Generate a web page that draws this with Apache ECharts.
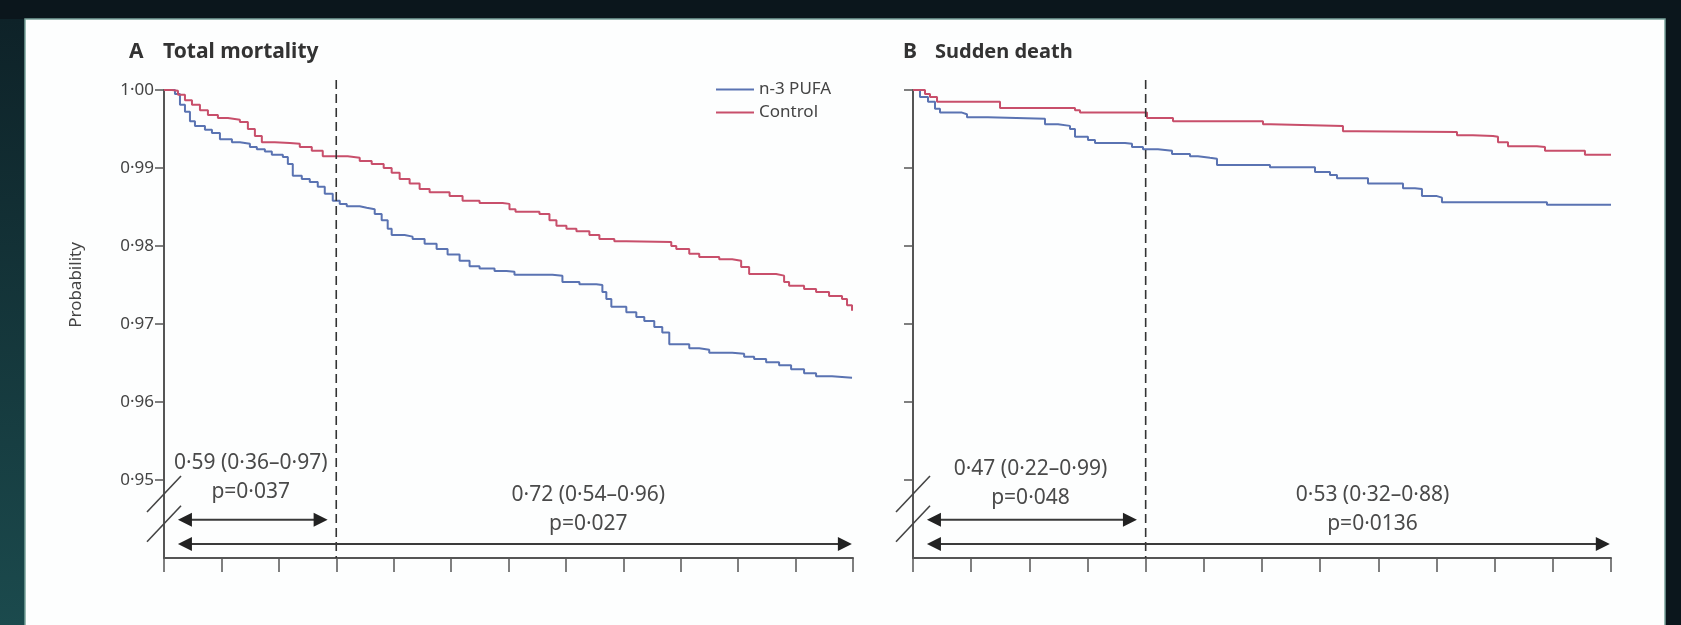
<!DOCTYPE html>
<html><head><meta charset="utf-8">
<script src="https://cdn.jsdelivr.net/npm/echarts@6/dist/echarts.min.js"></script>
<style>html,body{margin:0;padding:0;background:#0b161c;}#c{width:1681px;height:625px;}</style>
</head><body><div id="c"></div>
<script>
// ---------- data ----------
const seriesNames = ['n-3 PUFA', 'Control'];
const panelLetters = ['A', 'B'];
const panelTitles = ['Total mortality', 'Sudden death'];
const yTicks = [0.95, 0.96, 0.97, 0.98, 0.99, 1.00];
const yMin = 0.94, yMax = 1.00, yStep = 0.01;
const xMin = 0, xMax = 12, xStep = 1;
const splitTimes = [3, 4];            // dashed line position, panel A / B
const breakMarks = [0.9482, 0.9444];  // axis-break slashes (y values at the axis)

// Panel A – total mortality  [time, probability]
const totalPufa = [[0,1],[0.104,1],[0.191,0.9995],[0.278,0.9981],[0.365,0.9972],[0.452,0.996],[0.539,0.9954],[0.713,0.9949],[0.835,0.9945],[0.974,0.9937],[1.183,0.9933],[1.322,0.9931],[1.496,0.9927],[1.617,0.9924],[1.757,0.9921],[1.878,0.9917],[2.07,0.9914],[2.157,0.9905],[2.243,0.989],[2.4,0.9886],[2.539,0.9882],[2.678,0.9876],[2.8,0.9867],[2.939,0.9858],[3.061,0.9854],[3.183,0.9851],[3.409,0.9849],[3.53,0.9847],[3.67,0.9841],[3.791,0.9833],[3.896,0.9822],[3.965,0.9814],[4.191,0.9812],[4.33,0.9809],[4.539,0.9803],[4.748,0.9796],[4.939,0.9789],[5.148,0.9781],[5.322,0.9774],[5.496,0.9771],[5.757,0.9768],[5.965,0.9767],[6.104,0.9763],[6.765,0.9762],[6.939,0.9754],[7.235,0.9751],[7.53,0.975],[7.635,0.9741],[7.704,0.9732],[7.791,0.9722],[8.052,0.9715],[8.226,0.9709],[8.365,0.9704],[8.539,0.9696],[8.678,0.9689],[8.8,0.9674],[9.148,0.9669],[9.322,0.9667],[9.496,0.9663],[9.896,0.9662],[10.104,0.9658],[10.278,0.9655],[10.487,0.9651],[10.713,0.9647],[10.922,0.9642],[11.148,0.9637],[11.357,0.9633],[11.635,0.9631],[11.983,0.9631]];
const totalControl = [[0,1],[0.139,0.9999],[0.243,0.9994],[0.365,0.9987],[0.487,0.9981],[0.626,0.9974],[0.765,0.9968],[0.939,0.9964],[1.113,0.9962],[1.322,0.9959],[1.461,0.995],[1.583,0.9941],[1.704,0.9933],[1.93,0.9932],[2.191,0.9931],[2.365,0.9927],[2.574,0.9922],[2.765,0.9915],[3.2,0.9913],[3.409,0.9909],[3.617,0.9905],[3.826,0.99],[3.965,0.9894],[4.104,0.9886],[4.278,0.988],[4.452,0.9873],[4.626,0.9869],[4.974,0.9864],[5.2,0.9858],[5.496,0.9855],[5.896,0.9854],[6.017,0.9847],[6.122,0.9844],[6.539,0.9841],[6.713,0.9833],[6.835,0.9826],[7.009,0.9822],[7.183,0.9819],[7.409,0.9814],[7.583,0.9809],[7.843,0.9806],[8.052,0.9805],[8.835,0.98],[8.922,0.9796],[9.148,0.979],[9.322,0.9786],[9.67,0.9783],[9.896,0.9781],[10.052,0.9773],[10.191,0.9764],[10.661,0.9762],[10.8,0.9754],[10.887,0.9749],[11.148,0.9745],[11.357,0.9741],[11.583,0.9736],[11.809,0.9732],[11.896,0.9724],[11.983,0.9717]];

// Panel B – sudden death
const suddenPufa = [[0,1],[0.12,0.9991],[0.258,0.9985],[0.378,0.9976],[0.464,0.9971],[0.842,0.9969],[0.928,0.9965],[1.289,0.9963],[2.269,0.9956],[2.493,0.9954],[2.699,0.995],[2.785,0.994],[3.008,0.9936],[3.129,0.9932],[3.645,0.9931],[3.765,0.9927],[3.954,0.9924],[4.212,0.9922],[4.453,0.9918],[4.762,0.9915],[4.899,0.9913],[5.106,0.9912],[5.226,0.9904],[6.137,0.9901],[6.911,0.9895],[7.169,0.9891],[7.289,0.9887],[7.822,0.988],[8.424,0.9874],[8.63,0.9873],[8.75,0.9864],[9.008,0.9862],[9.094,0.9856],[10.899,0.9853],[12,0.9853]];
const suddenControl = [[0,1],[0.206,0.9995],[0.292,0.9991],[0.413,0.9985],[1.496,0.9977],[2.785,0.9974],[2.871,0.9971],[4.023,0.9964],[4.47,0.996],[6.017,0.9956],[6.151,0.9954],[7.392,0.9947],[7.633,0.9946],[9.352,0.9942],[9.627,0.9941],[9.971,0.994],[10.057,0.9933],[10.229,0.9928],[10.727,0.9927],[10.865,0.9922],[11.552,0.9917],[12,0.9917]];

// annotations: arrows [from, to, y]; labels [text, x, y]
const arrowsA = [[0.243, 2.85, 0.9449], [0.243, 11.98, 0.9418]];
const arrowsB = [[0.24, 3.85, 0.9449], [0.24, 11.98, 0.9418]];
const labelsA = [['0\u00b759 (0\u00b736\u20130\u00b797)', 1.51, 0.9522], ['p=0\u00b7037', 1.51, 0.9485], ['0\u00b772 (0\u00b754\u20130\u00b796)', 7.39, 0.9481], ['p=0\u00b7027', 7.39, 0.9443]];
const labelsB = [['0\u00b747 (0\u00b722\u20130\u00b799)', 2.02, 0.9514], ['p=0\u00b7048', 2.02, 0.9477], ['0\u00b753 (0\u00b732\u20130\u00b788)', 7.9, 0.9481], ['p=0\u00b70136', 7.9, 0.9444]];
const yAxisName = 'Probability';

// ---------- style ----------
const FONT = 'Noto Sans';
const BLUE = '#5a73b2', RED = '#c84f6b';
const AX = '#555', TXT = '#444';

const chart = echarts.init(document.getElementById('c'), null, {renderer: 'canvas'});

function arrowRender(params, api) {
  const y = api.value(2);
  const p1 = api.coord([api.value(0), y]);
  const p2 = api.coord([api.value(1), y]);
  const L = 14, H = 7;
  return {type: 'group', children: [
    {type: 'line', shape: {x1: p1[0] + L - 2, y1: p1[1], x2: p2[0] - L + 2, y2: p2[1]}, style: {stroke: '#3a3a3a', lineWidth: 2}},
    {type: 'polygon', shape: {points: [[p1[0], p1[1]], [p1[0] + L, p1[1] - H], [p1[0] + L, p1[1] + H]]}, style: {fill: '#222'}},
    {type: 'polygon', shape: {points: [[p2[0], p2[1]], [p2[0] - L, p2[1] - H], [p2[0] - L, p2[1] + H]]}, style: {fill: '#222'}}
  ]};
}
function textRender(list) {
  return function (params, api) {
    const p = api.coord([api.value(0), api.value(1)]);
    return {type: 'text', x: p[0], y: p[1], style: {text: list[params.dataIndex][0], fontSize: 21, fontFamily: FONT, fill: '#4a4a4a', align: 'center', verticalAlign: 'middle'}};
  };
}
function dashRender(params, api) {
  const t = api.value(0);
  const top = api.coord([t, yMax]);
  const bot = api.coord([t, yMin]);
  return {type: 'line', shape: {x1: top[0], y1: top[1] - 10, x2: bot[0], y2: bot[1]}, style: {stroke: '#333', lineWidth: 1.6, lineDash: [9, 5]}};
}
function slashRender(params, api) {
  const c = api.coord([api.value(0), api.value(1)]);
  return {type: 'line', shape: {x1: c[0] - 17, y1: c[1] + 18, x2: c[0] + 17, y2: c[1] - 18}, style: {stroke: '#444', lineWidth: 1.6}};
}
function nameRender(params, api) {
  const c = api.coord([xMin, (yTicks[0] + yTicks[yTicks.length - 1]) / 2]);
  return {type: 'text', x: c[0] - 88, y: c[1], rotation: Math.PI / 2, style: {text: yAxisName, fontSize: 17, fontFamily: FONT, fill: TXT, align: 'center', verticalAlign: 'middle'}};
}

function xAxisOpt(i) {
  return {gridIndex: i, type: 'value', min: xMin, max: xMax, interval: xStep,
    axisLine: {show: true, onZero: false, lineStyle: {color: AX, width: 2}},
    axisTick: {show: true, length: 14, lineStyle: {color: AX, width: 1.5}},
    axisLabel: {show: false}, splitLine: {show: false}};
}
function yAxisOpt(i, showLabels) {
  return {gridIndex: i, type: 'value', min: yMin, max: yMax, interval: yStep,
    axisLine: {show: true, onZero: false, lineStyle: {color: AX, width: 2}},
    axisTick: {show: true, length: 9, customValues: yTicks, lineStyle: {color: AX, width: 1.5}},
    axisLabel: {show: showLabels, margin: 10, fontSize: 17, fontFamily: FONT, color: TXT, customValues: yTicks,
      formatter: v => (v < yTicks[0] - 1e-6 ? '' : v.toFixed(2).replace('.', '\u00b7'))},
    splitLine: {show: false}};
}
function lineSeries(name, data, color, idx) {
  return {name: name, type: 'line', xAxisIndex: idx, yAxisIndex: idx, data: data, step: 'end',
    showSymbol: false, symbol: 'none', color: color, lineStyle: {width: 2}, z: 3, animation: false};
}
function custom(idx, data, render, enc) {
  const s = {type: 'custom', xAxisIndex: idx, yAxisIndex: idx, data: data, renderItem: render, silent: true, clip: false, z: 4, animation: false};
  if (enc) s.encode = enc;
  return s;
}

const option = {
  backgroundColor: '#0b161c',
  animation: false,
  textStyle: {fontFamily: FONT},
  graphic: [
    {type: 'rect', z: -10, shape: {x: 0, y: 19, width: 25, height: 606},
      style: {fill: new echarts.graphic.LinearGradient(0, 0, 0, 1, [{offset: 0, color: '#0e2228'}, {offset: 1, color: '#1b4a4d'}])}},
    {type: 'rect', z: -9, shape: {x: 25, y: 19, width: 1640, height: 640},
      style: {fill: '#fdfefe', stroke: '#7aa39a', lineWidth: 1.5}}
  ],
  title: [
    {left: 124, top: 33, text: '{l|' + panelLetters[0] + '}{t|' + panelTitles[0] + '}',
      textStyle: {rich: {l: {fontSize: 21, fontFamily: FONT, color: '#333', width: 34, lineHeight: 28}, t: {fontSize: 21, fontFamily: FONT, fontWeight: 'bold', color: '#333', lineHeight: 28}}}},
    {left: 898, top: 33, text: '{l|' + panelLetters[1] + '}{t|' + panelTitles[1] + '}',
      textStyle: {rich: {l: {fontSize: 21, fontFamily: FONT, color: '#333', width: 32, lineHeight: 28}, t: {fontSize: 20, fontFamily: FONT, fontWeight: 'bold', color: '#333', lineHeight: 28}}}}
  ],
  legend: {left: 716, top: 78, orient: 'vertical', icon: 'rect', itemWidth: 38, itemHeight: 2, itemGap: 0, padding: 0,
    textStyle: {fontSize: 17, lineHeight: 23, color: TXT, fontFamily: FONT}, data: seriesNames, selectedMode: false},
  grid: [
    {left: 164, top: 90, width: 689, height: 468},
    {left: 913, top: 90, width: 698, height: 468}
  ],
  xAxis: [xAxisOpt(0), xAxisOpt(1)],
  yAxis: [yAxisOpt(0, true), yAxisOpt(1, false)],
  series: [
    lineSeries(seriesNames[0], totalPufa, BLUE, 0),
    lineSeries(seriesNames[1], totalControl, RED, 0),
    lineSeries(seriesNames[0], suddenPufa, BLUE, 1),
    lineSeries(seriesNames[1], suddenControl, RED, 1),
    custom(0, [[splitTimes[0]]], dashRender),
    custom(1, [[splitTimes[1]]], dashRender),
    custom(0, arrowsA, arrowRender, {x: [0, 1], y: 2}),
    custom(1, arrowsB, arrowRender, {x: [0, 1], y: 2}),
    custom(0, labelsA.map(d => [d[1], d[2]]), textRender(labelsA)),
    custom(1, labelsB.map(d => [d[1], d[2]]), textRender(labelsB)),
    custom(0, breakMarks.map(v => [xMin, v]), slashRender),
    custom(1, breakMarks.map(v => [xMin, v]), slashRender),
    custom(0, [[xMin, yMax]], nameRender)
  ]
};
chart.setOption(option);
</script>
</body></html>
